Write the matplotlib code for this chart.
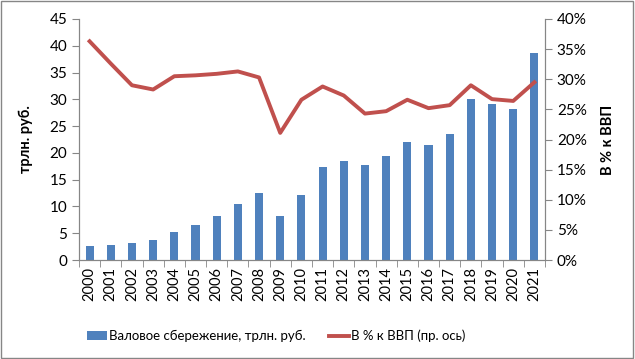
import matplotlib.pyplot as plt
import numpy as np
from matplotlib.patches import Rectangle

plt.rcParams['font.family'] = ['Lato', 'DejaVu Sans']

years = [str(y) for y in range(2000, 2022)]
savings = [2.6, 2.8, 3.2, 3.7, 5.2, 6.5, 8.2, 10.4, 12.5, 8.2, 12.1, 17.3,
           18.4, 17.7, 19.4, 22.0, 21.4, 23.5, 30.0, 29.1, 28.2, 38.6]
share_gdp = [36.3, 32.6, 29.0, 28.3, 30.5, 30.65, 30.9, 31.3, 30.3, 21.1, 26.6, 28.8,
             27.3, 24.3, 24.7, 26.6, 25.2, 25.7, 29.0, 26.7, 26.4, 29.5]

bar_color = '#4F81BD'
line_color = '#C0504D'
axis_gray = '#868686'

fig = plt.figure(figsize=(6.35, 3.59), dpi=100)
fig.patches.append(Rectangle((0.002, 0.003), 0.995, 0.993, transform=fig.transFigure,
                             fill=False, edgecolor=axis_gray, linewidth=1))

ax = fig.add_axes([79 / 635, 1 - 260 / 359, (545 - 79) / 635, (260 - 19) / 359])
x = np.arange(len(years))
ax.bar(x, savings, width=0.38, color=bar_color, label='Валовое сбережение, трлн. руб.', zorder=2)
ax.set_xlim(-0.5, len(years) - 0.5)
ax.set_ylim(0, 45)
ax.set_yticks(range(0, 46, 5))
ax.set_xticks(x)
ax.set_xticklabels(years, rotation=90, fontsize=10.5)
ax.set_xticks(np.arange(-0.5, len(years), 1), minor=True)
ax.tick_params(axis='x', which='major', length=0, pad=5)
ax.tick_params(axis='x', which='minor', length=5, color=axis_gray)
ax.tick_params(axis='y', length=5, color=axis_gray, labelsize=11)
ax.set_ylabel('трлн. руб.', fontsize=10.5, fontweight='bold', labelpad=12)
ax.spines['top'].set_visible(False)
for s in ['left', 'bottom', 'right']:
    ax.spines[s].set_color(axis_gray)

ax2 = ax.twinx()
ax2.plot(x, share_gdp, color=line_color, linewidth=2.8, label='В % к ВВП (пр. ось)', zorder=3)
ax2.set_ylim(0, 40)
ax2.set_yticks(range(0, 41, 5))
ax2.set_yticklabels([f'{v}%' for v in range(0, 41, 5)])
ax2.tick_params(axis='y', length=5, color=axis_gray, labelsize=11)
ax2.set_ylabel('В % к ВВП', fontsize=10.5, fontweight='bold', labelpad=10)
ax2.spines['top'].set_visible(False)
for s in ['left', 'bottom', 'right']:
    ax2.spines[s].set_color(axis_gray)

h1, l1 = ax.get_legend_handles_labels()
h2, l2 = ax2.get_legend_handles_labels()
fig.legend(h1 + h2, l1 + l2, loc='center left', bbox_to_anchor=(75 / 635, 1 - 336 / 359), ncol=2,
           frameon=False, fontsize=9.5, handlelength=1.5, handleheight=0.7,
           handletextpad=0.15, columnspacing=1.8)

plt.savefig('out.png', dpi=100)
plt.close()
